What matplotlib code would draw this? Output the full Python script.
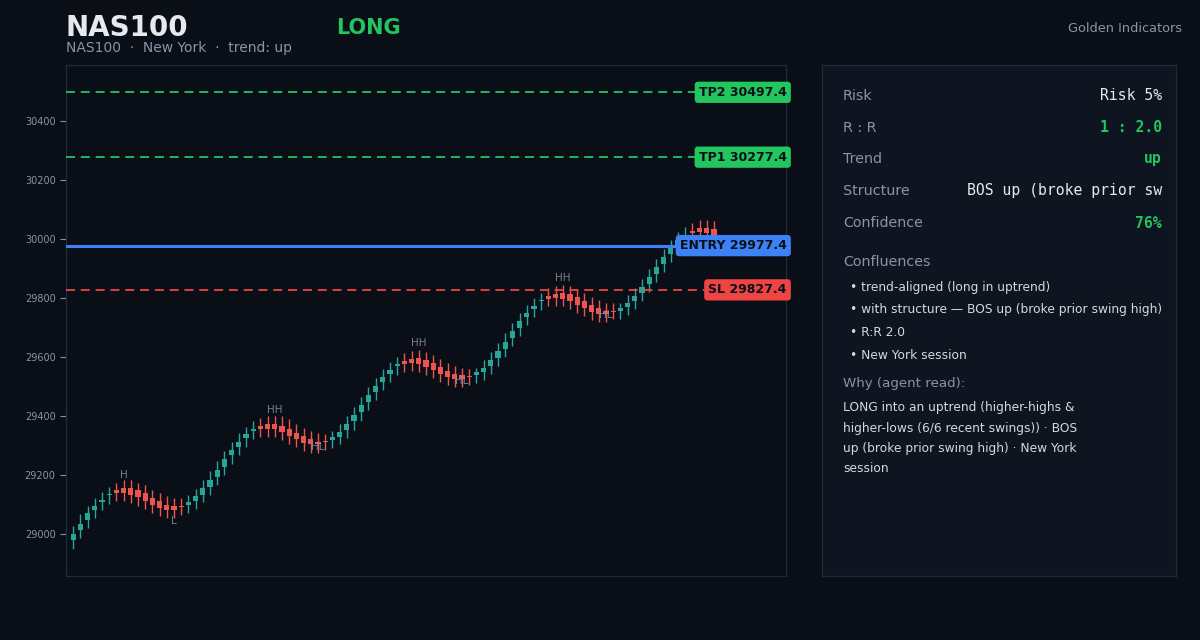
"""
plot.py

NAS100 long setup card: candles with TP / entry / SL levels and a side panel.
"""

import matplotlib
matplotlib.use("Agg")
import matplotlib.pyplot as plt
import matplotlib.transforms as mtransforms
import numpy as np


# ---- data -------------------------------------------------------------

opens = [28978, 29012, 29046, 29080, 29107, 29131, 29147, 29154, 29154, 29147,
         29137, 29123, 29110, 29099, 29093, 29093, 29097, 29110, 29133, 29160,
         29194, 29228, 29266, 29296, 29325, 29348, 29367, 29374, 29374, 29367,
         29357, 29343, 29333, 29320, 29313, 29313, 29317, 29330, 29353, 29381,
         29412, 29448, 29482, 29516, 29543, 29568, 29587, 29594, 29598, 29591,
         29581, 29567, 29553, 29543, 29537, 29533, 29537, 29550, 29570, 29597,
         29627, 29665, 29699, 29734, 29764, 29789, 29808, 29815, 29818, 29815,
         29804, 29791, 29777, 29767, 29757, 29757, 29757, 29770, 29791, 29818,
         29848, 29882, 29916, 29950, 29980, 30005, 30027, 30038, 30038, 30035]
closes = [29000, 29035, 29069, 29096, 29115, 29134, 29137, 29138, 29131, 29124,
          29110, 29097, 29089, 29082, 29082, 29090, 29107, 29127, 29154, 29184,
          29218, 29255, 29286, 29313, 29337, 29355, 29357, 29357, 29354, 29344,
          29333, 29320, 29309, 29303, 29303, 29311, 29327, 29347, 29374, 29404,
          29438, 29472, 29503, 29533, 29557, 29575, 29577, 29581, 29577, 29567,
          29557, 29543, 29533, 29526, 29526, 29531, 29548, 29564, 29591, 29621,
          29652, 29689, 29723, 29750, 29774, 29792, 29798, 29801, 29798, 29791,
          29777, 29767, 29753, 29747, 29747, 29754, 29765, 29784, 29808, 29838,
          29872, 29906, 29940, 29970, 29998, 30014, 30021, 30025, 30021, 30015]
highs = [29028, 29066, 29096, 29123, 29143, 29159, 29174, 29181, 29181, 29174,
         29164, 29150, 29137, 29127, 29120, 29120, 29133, 29153, 29181, 29214,
         29248, 29282, 29313, 29342, 29364, 29381, 29394, 29401, 29401, 29398,
         29388, 29372, 29360, 29350, 29343, 29340, 29350, 29374, 29401, 29431,
         29465, 29499, 29530, 29560, 29584, 29601, 29614, 29621, 29625, 29618,
         29608, 29594, 29580, 29570, 29564, 29560, 29564, 29591, 29618, 29648,
         29681, 29716, 29750, 29777, 29801, 29818, 29835, 29842, 29845, 29842,
         29831, 29818, 29804, 29794, 29784, 29784, 29784, 29811, 29835, 29865,
         29899, 29933, 29967, 29997, 30025, 30040, 30054, 30065, 30065, 30060]
lows = [28949, 28985, 29019, 29053, 29080, 29101, 29110, 29110, 29104, 29095,
        29083, 29069, 29060, 29055, 29055, 29063, 29069, 29083, 29107, 29133,
        29167, 29201, 29236, 29269, 29296, 29320, 29330, 29330, 29327, 29317,
        29306, 29293, 29282, 29274, 29274, 29284, 29290, 29303, 29326, 29353,
        29384, 29421, 29455, 29489, 29516, 29540, 29550, 29553, 29550, 29540,
        29530, 29516, 29506, 29499, 29499, 29504, 29510, 29523, 29543, 29570,
        29600, 29638, 29672, 29707, 29737, 29760, 29771, 29774, 29771, 29764,
        29750, 29740, 29726, 29720, 29720, 29727, 29730, 29743, 29764, 29791,
        29821, 29855, 29889, 29923, 29953, 29978, 29994, 29998, 29994, 29988]

swing_idx = [7, 14, 28, 34, 48, 54, 68, 74]
swing_price = [29201, 29045, 29421, 29296, 29646, 29520, 29866, 29741]
swing_text = ["H", "L", "HH", "HL", "HH", "HL", "HH", "HL"]

level_names = ["TP2", "TP1", "ENTRY", "SL"]
level_prices = [30497.4, 30277.4, 29977.4, 29827.4]

y_ticks = [29000, 29200, 29400, 29600, 29800, 30000, 30200, 30400]

panel_keys = ["Risk", "R : R", "Trend", "Structure", "Confidence"]
panel_values = ["Risk 5%", "1 : 2.0", "up", "BOS up (broke prior sw", "76%"]
confluences = [
    "trend-aligned (long in uptrend)",
    "with structure \u2014 BOS up (broke prior swing high)",
    "R:R 2.0",
    "New York session",
]
why_lines = [
    "LONG into an uptrend (higher-highs &",
    "higher-lows (6/6 recent swings)) \u00b7 BOS",
    "up (broke prior swing high) \u00b7 New York",
    "session",
]

# ---- style ------------------------------------------------------------

BG = "#0a0f17"
PANEL_BG = "#0e1520"
EDGE = "#1f2a3a"
MUTED = "#8a94a6"
TEXT = "#e6e9ef"
SOFT = "#d4d8df"
GREEN = "#22c55e"
BLUE = "#3b82f6"
RED = "#ef4444"
UP = "#26a69a"
DOWN = "#ef5350"

level_colors = [GREEN, GREEN, BLUE, RED]

W, H = 1200, 640


def fx(px):
    return px / W


def fy(py):
    return 1 - py / H


fig = plt.figure(figsize=(12, 6.4), dpi=100, facecolor=BG)

# ---- header -----------------------------------------------------------

fig.text(fx(66), fy(28), "NAS100", color=TEXT, fontsize=20, fontweight="bold",
         va="center", ha="left")
fig.text(fx(336), fy(28), "LONG", color=GREEN, fontsize=15, fontweight="bold",
         va="center", ha="left")
fig.text(fx(66), fy(48), "NAS100  \u00b7  New York  \u00b7  trend: up", color=MUTED,
         fontsize=10, va="center", ha="left")
fig.text(fx(1182), fy(29), "Golden Indicators", color=MUTED, fontsize=9.3,
         va="center", ha="right")

# ---- chart ------------------------------------------------------------

ax = fig.add_axes([fx(66), fy(576), fx(786 - 66), (576 - 65) / H], facecolor=BG)

o = np.array(opens, dtype=float)
c = np.array(closes, dtype=float)
hi = np.array(highs, dtype=float)
lo = np.array(lows, dtype=float)
x = np.arange(len(o))
colors = [UP if cc >= oo else DOWN for oo, cc in zip(o, c)]

ax.vlines(x, lo, hi, colors=colors, linewidth=1.0, zorder=2)
body_bottom = np.minimum(o, c)
body_height = np.maximum(np.abs(c - o), 3)
ax.bar(x, body_height, bottom=body_bottom, width=0.74, color=colors,
       linewidth=0, zorder=3)

for i, p, t in zip(swing_idx, swing_price, swing_text):
    ax.text(i, p, t, color=MUTED, alpha=0.85, fontsize=7.5, ha="center",
            va="center", zorder=4)

trans = mtransforms.blended_transform_factory(ax.transAxes, ax.transData)
for name, price, col in zip(level_names, level_prices, level_colors):
    if name == "ENTRY":
        ax.axhline(price, color=col, linewidth=2.2, zorder=5)
    else:
        ax.axhline(price, color=col, linewidth=1.3, dashes=(5, 3.2), zorder=5)
    ax.text(1.001, price, f"{name} {price:.1f}", transform=trans, ha="right",
            va="center", fontsize=9, fontweight="bold", color="#0b1018",
            zorder=6, clip_on=False,
            bbox=dict(boxstyle="round,pad=0.33,rounding_size=0.25", fc=col,
                      ec="none"))

ax.set_xlim(-1, 99)
ax.set_ylim(28857, 30590)
ax.set_yticks(y_ticks)
ax.set_xticks([])
ax.tick_params(axis="y", colors=MUTED, labelsize=7, length=4, width=0.8)
for s in ax.spines.values():
    s.set_color(EDGE)
    s.set_linewidth(0.9)

# ---- side panel -------------------------------------------------------

pan = fig.add_axes([fx(822), fy(576), fx(1176 - 822), (576 - 65) / H],
                   facecolor=PANEL_BG)
pan.set_xticks([])
pan.set_yticks([])
for s in pan.spines.values():
    s.set_color(EDGE)
    s.set_linewidth(0.9)

row_y = [96, 127.5, 159, 191, 223]
value_colors = [TEXT, GREEN, GREEN, TEXT, GREEN]
value_weights = ["normal", "bold", "bold", "normal", "bold"]
for yy, k, v, vc, vw in zip(row_y, panel_keys, panel_values, value_colors, value_weights):
    fig.text(fx(843), fy(yy), k, color=MUTED, fontsize=10.3, va="center", ha="left")
    fig.text(fx(1162), fy(yy), v, color=vc, fontsize=10.6, va="center", ha="right",
             family="DejaVu Sans Mono", fontweight=vw)

fig.text(fx(843), fy(262), "Confluences", color=MUTED, fontsize=10.3, va="center")
for j, line in enumerate(confluences):
    fig.text(fx(850), fy(287 + j * 22.7), "\u2022 " + line, color=SOFT,
             fontsize=8.8, va="center")

fig.text(fx(843), fy(384), "Why (agent read):", color=MUTED, fontsize=9.6, va="center")
for j, line in enumerate(why_lines):
    fig.text(fx(843), fy(408 + j * 20.2), line, color=SOFT, fontsize=8.8, va="center")

fig.savefig("out.png", dpi=100, facecolor=BG)
